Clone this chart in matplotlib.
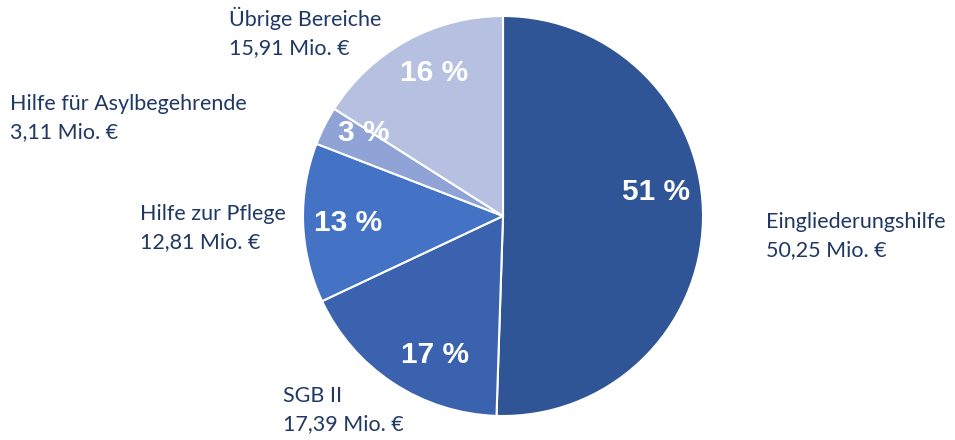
import matplotlib.pyplot as plt

labels = ["Eingliederungshilfe", "SGB II", "Hilfe zur Pflege",
          "Hilfe für Asylbegehrende", "Übrige Bereiche"]
values = [50.25, 17.39, 12.81, 3.11, 15.91]
value_texts = ["50,25 Mio. €", "17,39 Mio. €", "12,81 Mio. €", "3,11 Mio. €", "15,91 Mio. €"]
colors = ["#2F5597", "#3A62AE", "#4472C4", "#8FA3D6", "#B6C1E2"]

# where the category names sit (left x, top y in pixels of the 955x440 image)
label_pos = [(766, 212), (283, 386), (140, 204), (10, 94), (229, 7)]
# percent label centres, in units of the pie radius (Excel placement)
pct_pos = [(0.765, 0.12), (-0.34, -0.695), (-0.775, -0.035), (-0.695, 0.415), (-0.345, 0.715)]

fig = plt.figure(figsize=(9.55, 4.4), dpi=100)
ax = fig.add_axes([303 / 955, 24 / 440, 400 / 955, 400 / 440])

wedges, texts, autotexts = ax.pie(
    values, colors=colors, startangle=90, counterclock=False,
    autopct=lambda p: f"{p:.0f} %", pctdistance=0.78,
    wedgeprops=dict(edgecolor="white", linewidth=1.5),
    textprops=dict(color="white", fontsize=21.5, fontweight="bold",
                   family="Liberation Sans"))
ax.set_aspect("equal")
ax.set_xlim(-1, 1)
ax.set_ylim(-1, 1)

for t, pos in zip(autotexts, pct_pos):
    t.set_position(pos)

for name, val, (px, py) in zip(labels, value_texts, label_pos):
    fig.text(px / 955, 1 - py / 440, name + "\n" + val, ha="left", va="top",
             fontsize=15.5, color="#1F3864", family="Lato", linespacing=1.5)

fig.savefig("out.png")
